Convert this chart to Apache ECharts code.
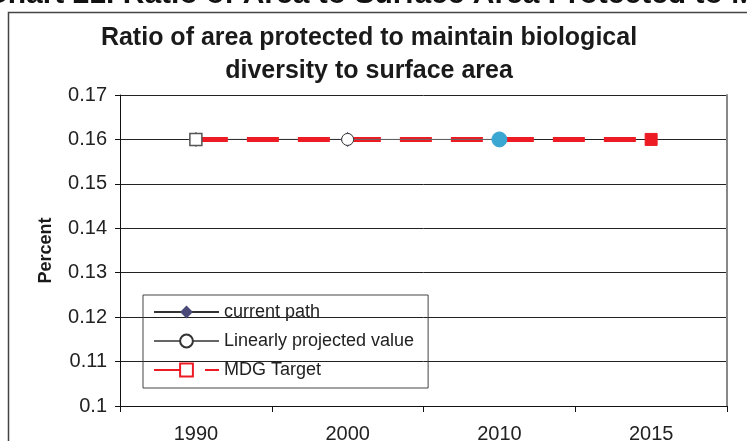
<!DOCTYPE html>
<html>
<head>
<meta charset="utf-8">
<script src="https://cdn.jsdelivr.net/npm/echarts@6/dist/echarts.min.js"></script>
<style>
  html, body { margin: 0; padding: 0; background: #fff; }
  #chart { width: 747px; height: 441px; }
</style>
</head>
<body>
<div id="chart"></div>
<script>
// data
const years = ['1990', '2000', '2010', '2015']
const currentPath = [0.16, 0.16, null, null]
const projected = [null, 0.16, 0.16, null]
const mdgTarget = [0.16, 0.16, 0.16, 0.16]

const red = '#ED1C24'
const font = '"Liberation Sans", Arial, sans-serif'

const myEchart = echarts.init(document.getElementById('chart'), null, { renderer: 'canvas' })

const option = {
  animation: false,
  textStyle: { fontFamily: font },
  title: {
    text: 'Ratio of area protected to maintain biological\ndiversity to surface area',
    left: 364,
    top: 17,
    textAlign: 'center',
    textStyle: { fontSize: 25, fontWeight: 'bold', color: '#1a1a1a', lineHeight: 33, fontFamily: font }
  },
  graphic: [
    { // cut-off heading above the chart box
      type: 'text', left: -14, top: -20, z: 10,
      style: { text: 'Chart 21. Ratio of Area to Surface Area Protected to Maintain', font: 'bold 30px ' + font, fill: '#111' }
    },
    { // chart box
      type: 'rect', z: 0,
      shape: { x: 8.5, y: 12.5, width: 800, height: 460 },
      style: { fill: 'none', stroke: '#444', lineWidth: 1.5 }
    }
  ],
  legend: {
    orient: 'vertical',
    left: 143,
    top: 295,
    padding: [8, 14, 9, 10],
    itemWidth: 65,
    itemHeight: 16,
    itemGap: 11,
    borderColor: '#444',
    borderWidth: 1,
    textStyle: { fontSize: 18, color: '#222', fontFamily: font },
    data: ['current path', 'Linearly projected value', 'MDG Target']
  },
  grid: { left: 120, right: 20, top: 95, bottom: 35, outerBoundsMode: 'none', containLabel: false },
  xAxis: {
    type: 'category',
    data: years,
    boundaryGap: true,
    axisLine: { lineStyle: { color: '#111', width: 1 } },
    axisTick: { show: true, length: 6, lineStyle: { color: '#111' } },
    axisLabel: { fontSize: 20, color: '#222', margin: 18, fontFamily: font }
  },
  yAxis: [{
    type: 'value',
    min: 0.1,
    max: 0.17,
    interval: 0.01,
    name: 'Percent',
    nameLocation: 'middle',
    nameGap: 65,
    nameRotate: 90,
    nameTextStyle: { fontSize: 18, fontWeight: 'bold', color: '#1a1a1a', fontFamily: font },
    axisLine: { show: true, lineStyle: { color: '#111', width: 1 } },
    axisTick: { show: true, length: 5, lineStyle: { color: '#111' } },
    axisLabel: {
      fontSize: 20, color: '#222', margin: 13, fontFamily: font,
      formatter: v => String(+v.toFixed(2))
    },
    splitLine: { show: true, lineStyle: { color: '#222', width: 1 } }
  }, {
    type: 'value',
    position: 'right',
    min: 0.1,
    max: 0.17,
    interval: 0.01,
    axisLine: { show: true, lineStyle: { color: '#888', width: 2 } },
    axisTick: { show: false },
    axisLabel: { show: false },
    splitLine: { show: false }
  }],
  series: [
    {
      name: 'MDG Target',
      type: 'line',
      z: 2,
      data: mdgTarget.map((v, i) => {
        if (i === 0) return { value: v, itemStyle: { color: '#fff', borderColor: '#555', borderWidth: 1.5 } }
        if (i === 3) return { value: v, itemStyle: { color: red, borderColor: red } }
        return { value: v, symbol: 'none' }
      }),
      symbol: 'rect',
      symbolSize: 12,
      lineStyle: { color: red, width: 5, type: [32, 19] },
      itemStyle: { color: '#fff', borderColor: red, borderWidth: 1 }
    },
    {
      name: 'current path',
      type: 'line',
      z: 1,
      data: currentPath,
      symbol: 'diamond',
      symbolSize: 14,
      lineStyle: { color: '#333', width: 1 },
      itemStyle: { color: '#4A4A78', borderColor: '#4A4A78' }
    },
    {
      name: 'Linearly projected value',
      type: 'line',
      z: 3,
      data: projected.map((v, i) => i === 2
        ? { value: v, symbolSize: 15, itemStyle: { color: '#3AA6D2', borderColor: '#3AA6D2' } }
        : v),
      symbol: 'circle',
      symbolSize: 12,
      lineStyle: { color: '#666', width: 1 },
      itemStyle: { color: '#fff', borderColor: '#333', borderWidth: 1 }
    }
  ]
}

myEchart.setOption(option)
</script>
</body>
</html>
